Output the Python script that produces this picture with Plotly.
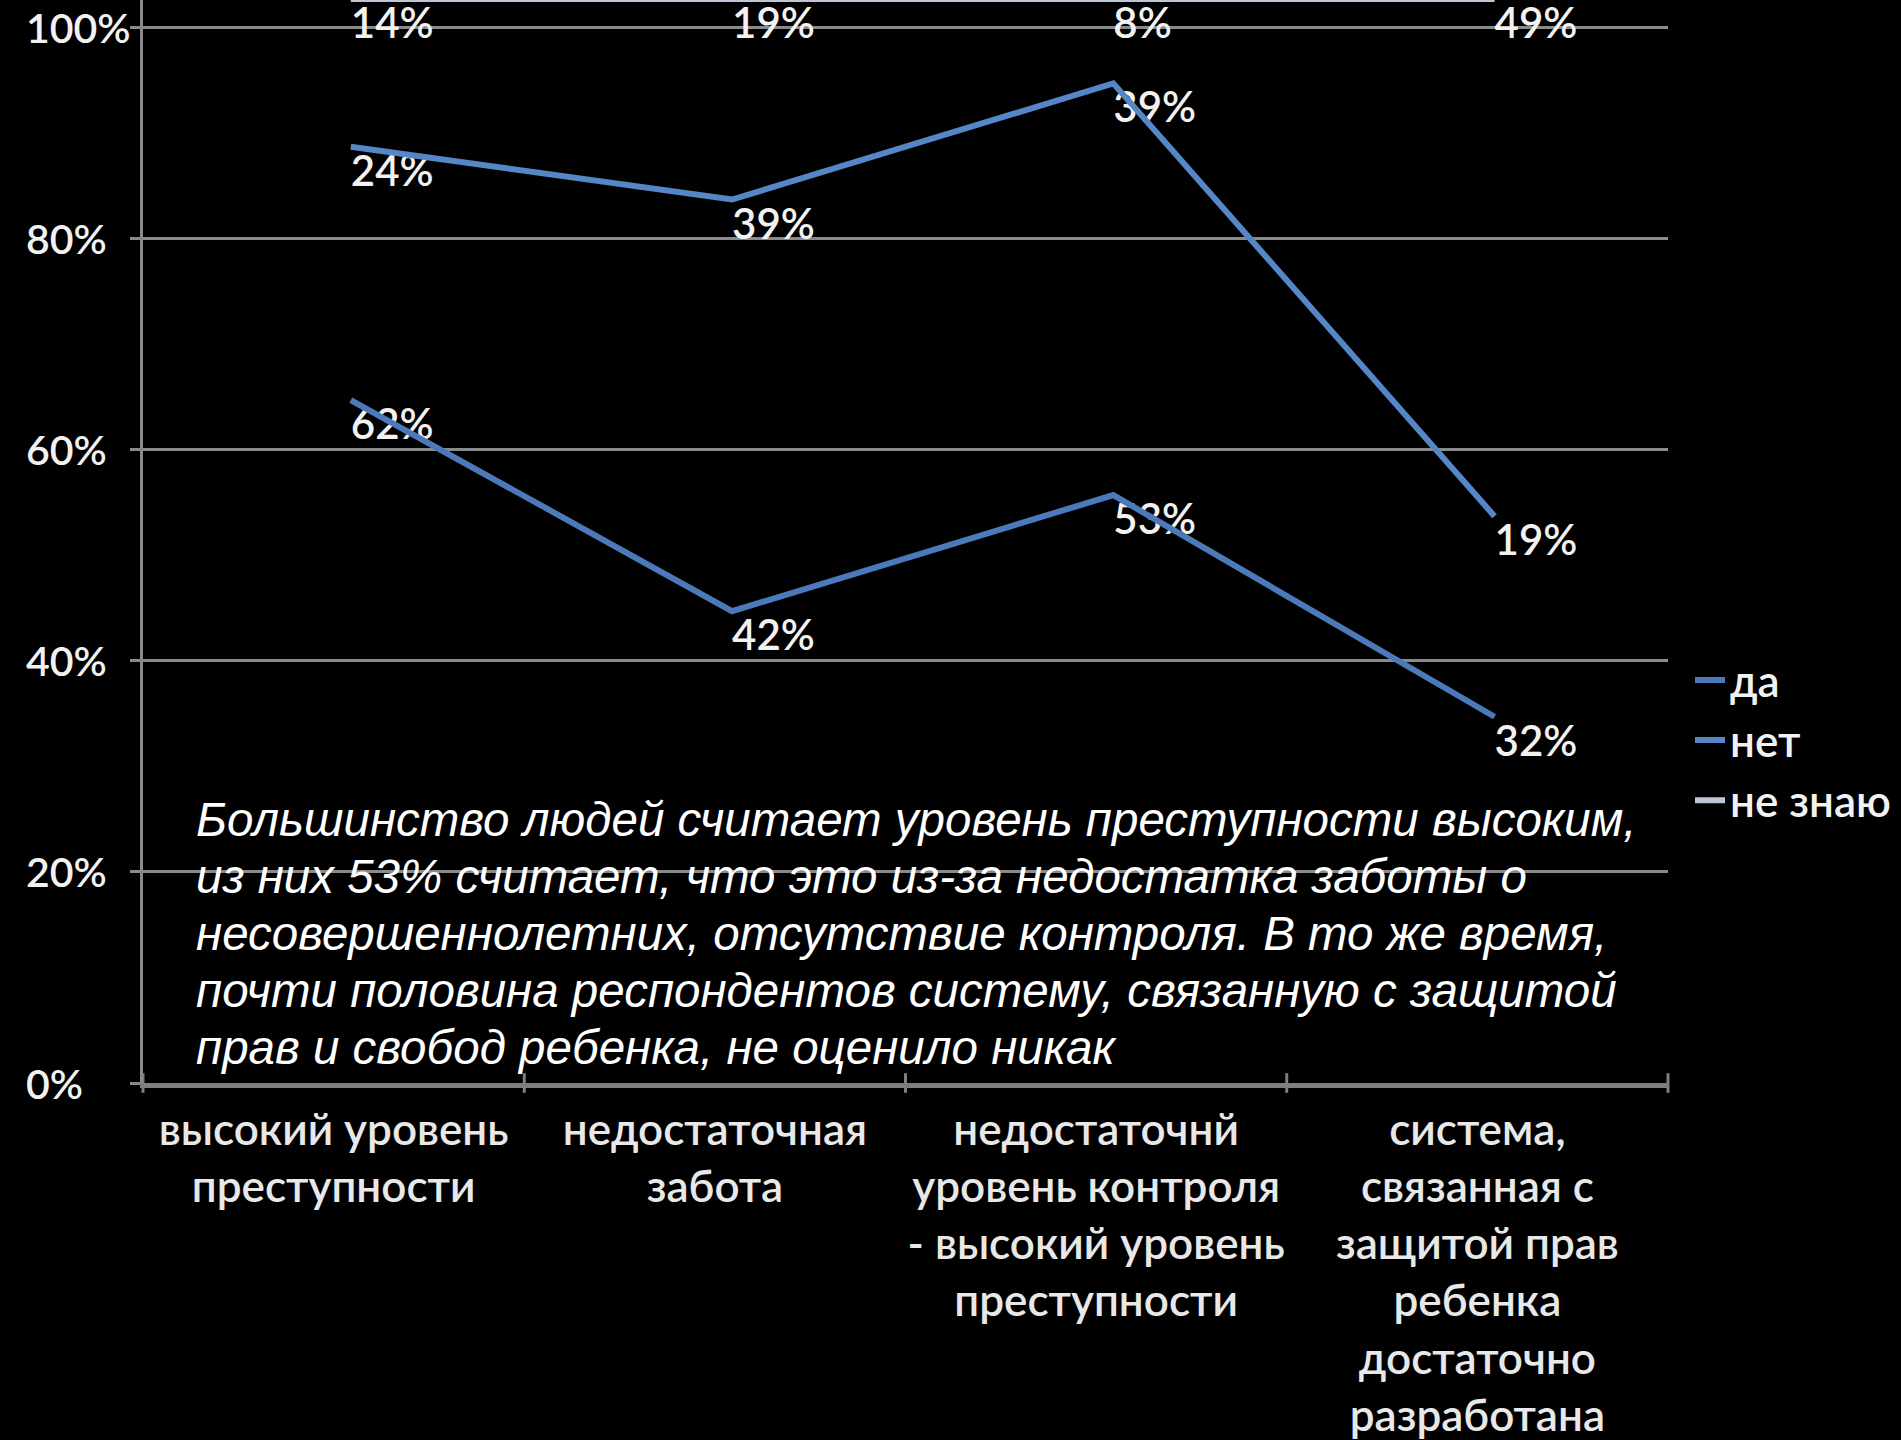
import plotly.graph_objects as go

# ---------------- data ----------------
CATEGORIES = [
    "высокий уровень<br>преступности",
    "недостаточная<br>забота",
    "недостаточнй<br>уровень контроля<br>- высокий уровень<br>преступности",
    "система,<br>связанная с<br>защитой прав<br>ребенка<br>достаточно<br>разработана",
]
SERIES_NAMES = ["да", "нет", "не знаю"]
DA = [62, 42, 53, 32]
NET = [24, 39, 39, 19]
NE_ZNAYU = [14, 19, 8, 49]
SERIES_VALUES = [DA, NET, NE_ZNAYU]

Y_TICK_VALUES = [0, 20, 40, 60, 80, 100]
Y_TICK_LABELS = ["0%", "20%", "40%", "60%", "80%", "100%"]

NOTE_LINES = [
    "Большинство людей считает уровень преступности высоким,",
    "из них 53% считает, что это из-за недостатка заботы о",
    "несовершеннолетних, отсутствие контроля. В то же время,",
    "почти половина респондентов систему, связанную с защитой",
    "прав и свобод ребенка, не оценило никак",
]

# ---------------- style ----------------
W, H = 1901, 1440
PLOT_L, PLOT_R, PLOT_T, PLOT_B = 143, 1668, 0, 1085
LINE_COLORS = ["#4b79ba", "#5586c6", "#bcc6d6"]
GRID = "#8a8a8a"
AXIS = "#7f7f7f"
FONT = "Lato, 'Noto Sans', sans-serif"
WEIGHT = 600
Y_MAX = 102.6
LINE_SHIFT_Y = 2.7      # the picture draws its lines a bit above the labelled values
LINE_SHIFT_X = 0.045


def px_to_paper_y(py):
    return (PLOT_B - py) / (PLOT_B - PLOT_T)


def px_to_paper_x(px):
    return (px - PLOT_L) / (PLOT_R - PLOT_L)


fig = go.Figure()
idx = list(range(len(CATEGORIES)))
boundaries = [i - 0.5 for i in range(len(CATEGORIES) + 1)]

# lines (stacked)
for name, vals, col in zip(SERIES_NAMES, SERIES_VALUES, LINE_COLORS):
    fig.add_trace(go.Scatter(
        x=idx, y=vals, name=name, mode="lines",
        stackgroup="lines", fill="none",
        line=dict(color=col, width=6),
        xaxis="x2", yaxis="y2",
    ))

# data labels (stacked at the labelled values)
for name, vals in zip(SERIES_NAMES, SERIES_VALUES):
    fig.add_trace(go.Scatter(
        x=idx, y=vals, mode="text", stackgroup="labels", fill="none",
        text=[f"{v}%" for v in vals], textposition="middle right",
        textfont=dict(family=FONT, size=42, color="#f2f2f2", weight=WEIGHT),
        showlegend=False, hoverinfo="skip", cliponaxis=False,
        xaxis="x2", yaxis="y",
    ))

annotations = []
for v, lab in zip(Y_TICK_VALUES, Y_TICK_LABELS):
    annotations.append(dict(
        x=px_to_paper_x(24), xref="paper", y=v, yref="y",
        text=lab, showarrow=False, xanchor="left", yanchor="middle",
        font=dict(family=FONT, size=41, color="#f2f2f2", weight=WEIGHT),
    ))

for i, line in enumerate(NOTE_LINES):
    base = 833 + 57 * i
    annotations.append(dict(
        x=px_to_paper_x(194), xref="paper",
        y=px_to_paper_y(base - 12), yref="paper",
        text=f"<i>{line}</i>", showarrow=False,
        xanchor="left", yanchor="middle", align="left",
        font=dict(family="'Liberation Sans', Arial, sans-serif", size=47.5, color="#ffffff"),
    ))

fig.update_layout(
    width=W, height=H,
    paper_bgcolor="black", plot_bgcolor="black",
    margin=dict(l=PLOT_L, r=W - PLOT_R, t=PLOT_T, b=H - PLOT_B, pad=0),
    showlegend=True,
    legend=dict(
        x=px_to_paper_x(1690), xanchor="left",
        y=px_to_paper_y(646), yanchor="top",
        traceorder="normal", bgcolor="rgba(0,0,0,0)",
        font=dict(family=FONT, size=44, color="#f2f2f2", weight=WEIGHT),
        itemwidth=30, tracegroupgap=0,
    ),
    xaxis=dict(
        type="linear", range=[-0.5, len(CATEGORIES) - 0.5],
        tickmode="array", tickvals=idx, ticktext=CATEGORIES,
        showgrid=False, zeroline=False,
        showline=True, linecolor=AXIS, linewidth=5,
        ticks="", ticklabelstandoff=4,
        tickfont=dict(family=FONT, size=44, color="#e8e8e8", weight=WEIGHT),
        fixedrange=True,
    ),
    xaxis2=dict(
        overlaying="x", range=[-0.5 - LINE_SHIFT_X, len(CATEGORIES) - 0.5 - LINE_SHIFT_X],
        visible=False, fixedrange=True,
    ),
    yaxis=dict(
        range=[0, Y_MAX], tickvals=Y_TICK_VALUES, showticklabels=False,
        showgrid=True, gridcolor=GRID, gridwidth=3, zeroline=False,
        showline=True, linecolor=GRID, linewidth=3,
        ticks="outside", ticklen=10, tickwidth=3, tickcolor=GRID,
        fixedrange=True,
    ),
    yaxis2=dict(
        overlaying="y", range=[-LINE_SHIFT_Y, Y_MAX - LINE_SHIFT_Y],
        visible=False, fixedrange=True,
    ),
    annotations=annotations,
)

# category boundary ticks below the x axis
fig.add_trace(go.Scatter(
    x=boundaries, y=[0] * len(boundaries), mode="markers",
    marker=dict(symbol="line-ns", size=14, line=dict(color=AXIS, width=3)),
    showlegend=False, hoverinfo="skip", cliponaxis=False,
))

fig.write_html(
    "out.html",
    config={"displayModeBar": False},
    post_script="document.body.style.margin='0';document.body.style.background='#000';",
)
